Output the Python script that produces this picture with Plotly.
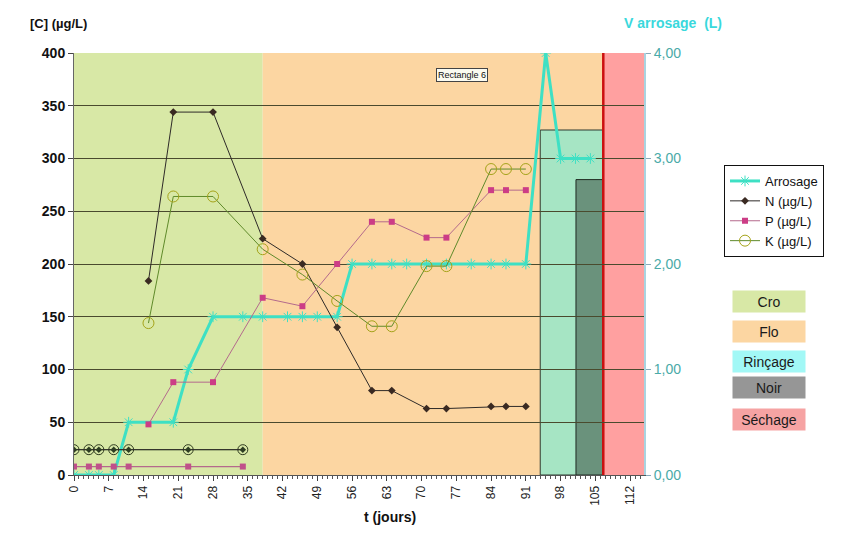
import plotly.graph_objects as go

# ---------------- data ----------------
# Arrosage volume (L) – secondary axis
arr_days = [0, 3, 5, 8, 11, 20, 23, 28, 34, 38, 43, 46, 49, 53, 56, 60, 64, 67, 71, 75, 80, 84, 87, 91, 95, 98, 101, 104]
arr_vol = [0, 0, 0, 0, 0.5, 0.5, 1.0, 1.5, 1.5, 1.5, 1.5, 1.5, 1.5, 1.5, 2, 2, 2, 2, 2, 2, 2, 2, 2, 2, 4, 3, 3, 3]

# first measurement series (low concentrations)
low_days = [0, 3, 5, 8, 11, 23, 34]
n_low = [24, 24, 24, 24, 24, 24, 24]
p_low = [8, 8, 8, 8, 8, 8, 8]
k_low = [24, 24, 24, 24, 24, 24, 24]

# second measurement series
days = [15, 20, 28, 38, 46, 53, 60, 64, 71, 75, 84, 87, 91]
n_vals = [184, 344, 344, 224, 200, 140, 80, 80, 63, 63, 65, 65, 65]
p_vals = [48, 88, 88, 168, 160, 200, 240, 240, 225, 225, 270, 270, 270]
k_vals = [144, 264, 264, 214, 190, 165, 141, 141, 198, 198, 290, 290, 290]

# phases (days)
cro_start, cro_end = 0, 38
flo_start, flo_end = 38, 106.5
rin_start, rin_end, rin_height = 93.9, 106.5, 3.27
noir_start, noir_end, noir_height = 101.1, 106.5, 2.80
sech_start, sech_end = 106.7, 114.8
sech_line = 106.6

phase_labels = ["Cro", "Flo", "Rinçage", "Noir", "Séchage"]
phase_label_colors = ["#d8e8a6", "#fcd6a2", "#a2f8f6", "#969696", "#f6a3a3"]

x_ticks = [0, 7, 14, 21, 28, 35, 42, 49, 56, 63, 70, 77, 84, 91, 98, 105, 112]

# ---------------- style ----------------
FONT = "Arial, Liberation Sans, sans-serif"
C_ARR = "#3ee0c4"
C_N_LINE = "#2e2a28"
C_N_MARK = "#3a2a22"
C_P_LINE = "#b46a8c"
C_P_MARK = "#cc3d86"
C_K_LINE = "#5f8a2a"
C_K_MARK = "#a5a31a"

fig = go.Figure()

fig.add_trace(go.Scatter(
    x=arr_days, y=arr_vol, name="Arrosage", yaxis="y", mode="lines+markers",
    line=dict(color=C_ARR, width=3),
    marker=dict(symbol="asterisk-open", size=9, color=C_ARR, line=dict(color=C_ARR, width=1)),
))

fig.add_trace(go.Scatter(
    x=low_days, y=k_low, name="K (µg/L)", yaxis="y2", mode="lines+markers", showlegend=False,
    legendgroup="K",
    line=dict(color="#3d5a2a", width=1),
    marker=dict(symbol="circle-open", size=10, color="#2e3a1e", line=dict(width=1)),
))
fig.add_trace(go.Scatter(
    x=low_days, y=n_low, name="N (µg/L)", yaxis="y2", mode="lines+markers", showlegend=False,
    legendgroup="N",
    line=dict(color=C_N_LINE, width=1),
    marker=dict(symbol="diamond", size=5, color="#2d3d22"),
))
fig.add_trace(go.Scatter(
    x=low_days, y=p_low, name="P (µg/L)", yaxis="y2", mode="lines+markers", showlegend=False,
    legendgroup="P",
    line=dict(color=C_P_LINE, width=1.2),
    marker=dict(symbol="square", size=6, color="#c0508a"),
))

fig.add_trace(go.Scatter(
    x=days, y=n_vals, name="N (µg/L)", yaxis="y2", mode="lines+markers", legendgroup="N",
    line=dict(color=C_N_LINE, width=1),
    marker=dict(symbol="diamond", size=6, color=C_N_MARK),
))
fig.add_trace(go.Scatter(
    x=days, y=p_vals, name="P (µg/L)", yaxis="y2", mode="lines+markers", legendgroup="P",
    line=dict(color=C_P_LINE, width=1),
    marker=dict(symbol="square", size=6, color=C_P_MARK),
))
fig.add_trace(go.Scatter(
    x=days, y=k_vals, name="K (µg/L)", yaxis="y2", mode="lines+markers", legendgroup="K",
    line=dict(color=C_K_LINE, width=1),
    marker=dict(symbol="circle-open", size=11, color=C_K_MARK, line=dict(width=1)),
))

shapes = [
    dict(type="rect", xref="x", yref="y", x0=cro_start, x1=cro_end, y0=0, y1=4,
         fillcolor="#d8e8a6", line=dict(width=0), layer="below"),
    dict(type="rect", xref="x", yref="y", x0=flo_start, x1=flo_end, y0=0, y1=4,
         fillcolor="#fcd6a2", line=dict(width=0), layer="below"),
    dict(type="rect", xref="x", yref="y", x0=rin_start, x1=rin_end, y0=0, y1=rin_height,
         fillcolor="#a6e5c4", line=dict(width=1, color="#2f3a30"), layer="below"),
    dict(type="rect", xref="x", yref="y", x0=noir_start, x1=noir_end, y0=0, y1=noir_height,
         fillcolor="#6a927c", line=dict(width=1, color="#1f2a22"), layer="below"),
    dict(type="rect", xref="x", yref="y", x0=sech_start, x1=sech_end, y0=0, y1=4,
         fillcolor="#ffa0a0", line=dict(width=0), layer="below"),
    dict(type="line", xref="x", yref="y", x0=sech_line, x1=sech_line, y0=0, y1=4,
         line=dict(color="#cc1010", width=2.5), layer="below"),
]

annotations = [
    dict(text="<b>[C] (µg/L)</b>", xref="paper", yref="paper", x=-0.081, y=1.07,
         xanchor="left", yanchor="middle", showarrow=False, font=dict(family=FONT, size=13, color="#111")),
    dict(text="<b>V arrosage  (L)</b>", xref="paper", yref="paper", x=0.962, y=1.07,
         xanchor="left", yanchor="middle", showarrow=False, font=dict(family=FONT, size=14, color="#3ad8dc")),
    dict(text="<b>t (jours)</b>", xref="paper", yref="paper", x=0.554, y=-0.099,
         xanchor="center", yanchor="middle", showarrow=False, font=dict(family=FONT, size=14, color="#111")),
    dict(text="Rectangle 6", xref="x", yref="y2", x=78.2, y=379, showarrow=False,
         font=dict(family=FONT, size=9, color="#111"), bgcolor="#fbfbf0", bordercolor="#444",
         borderwidth=1, borderpad=1),
]

label_centers_px = [301, 331, 361, 387, 419]
for name, col, cy in zip(phase_labels, phase_label_colors, label_centers_px):
    annotations.append(dict(
        text=name, xref="paper", yref="paper", x=(769 - 74) / 570, y=(475 - cy) / 422,
        xanchor="center", yanchor="middle", showarrow=False, width=70, height=19,
        bgcolor=col, font=dict(family=FONT, size=14, color="#1a1a1a"),
    ))

fig.update_layout(
    width=844, height=541,
    margin=dict(l=74, r=200, t=53, b=66),
    paper_bgcolor="white", plot_bgcolor="white",
    separators=",.",
    font=dict(family=FONT, size=12, color="#111"),
    shapes=shapes, annotations=annotations,
    showlegend=True,
    legend=dict(
        x=(724 - 74) / 570, y=(475 - 165) / 422, xanchor="left", yanchor="top",
        bgcolor="white", bordercolor="#111", borderwidth=1,
        font=dict(family=FONT, size=13, color="#111"), itemwidth=30,
        tracegroupgap=0,
    ),
    xaxis=dict(
        range=[0, 114.8], tickmode="array", tickvals=x_ticks, ticktext=[str(v) for v in x_ticks],
        tickangle=-90, ticks="outside", ticklen=5, tickcolor="#444",
        showline=True, linecolor="#555", linewidth=1, showgrid=False, zeroline=False,
        tickfont=dict(family=FONT, size=12, color="#222"),
        minor=dict(dtick=1, tick0=0, ticks="outside", ticklen=3, tickcolor="#555", showgrid=False),
    ),
    yaxis=dict(
        range=[0, 4], side="right", tickvals=[0, 1, 2, 3, 4], tickformat=".2f",
        ticks="outside", ticklen=5, tickcolor="#8ab",
        showgrid=False, zeroline=False, showline=True, linecolor="#a9d3e0", linewidth=2,
        tickfont=dict(family=FONT, size=14, color="#4aaaa8"),
    ),
    yaxis2=dict(
        range=[0, 400], side="left", overlaying="y", dtick=50, tick0=0,
        ticks="outside", ticklen=5, tickcolor="#444",
        showgrid=True, gridcolor="#4a4a2e", gridwidth=1, zeroline=False,
        showline=True, linecolor="#666", linewidth=1,
        tickfont=dict(family=FONT, size=14, color="#111", weight="bold"),
    ),
)

fig.write_html("out.html")
